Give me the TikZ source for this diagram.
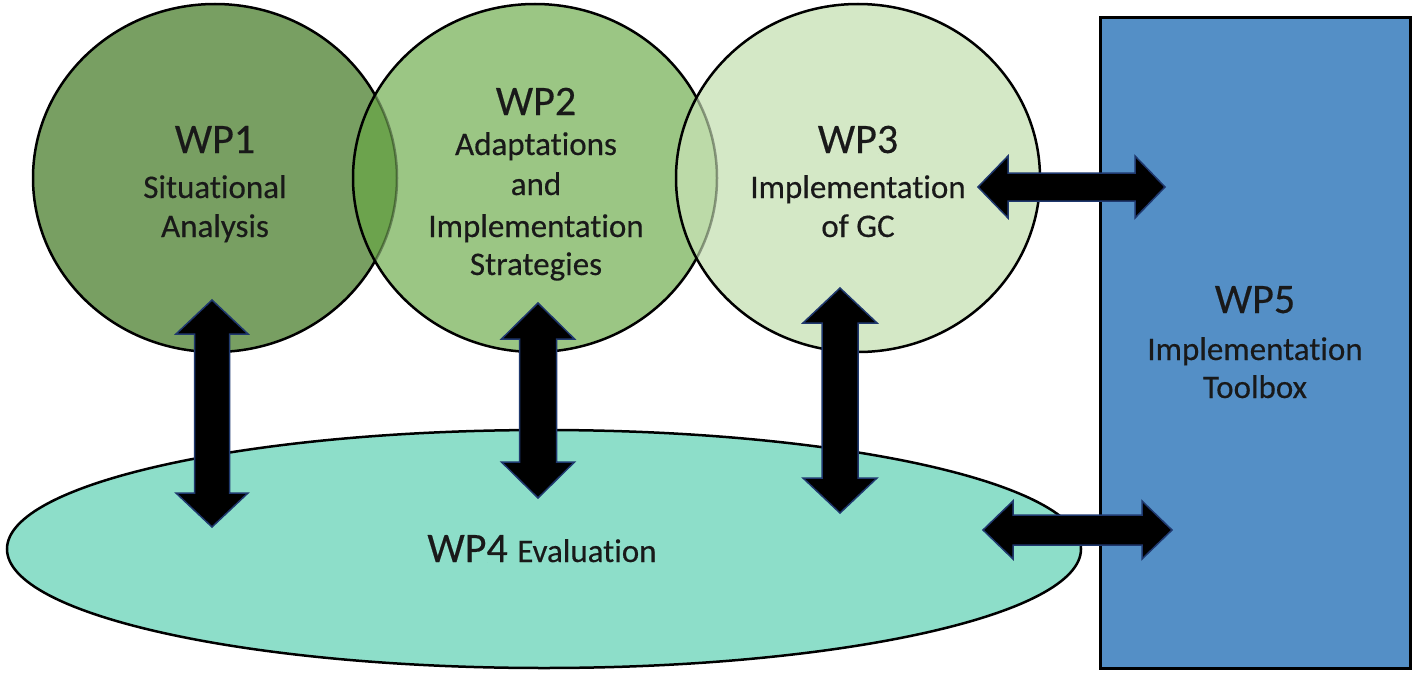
\documentclass[tikz,border=0pt]{standalone}
\usepackage{fontspec}
\setmainfont{Carlito}[FakeBold=0.35,Ligatures={NoCommon}]
\usetikzlibrary{calc,shapes.geometric}
\definecolor{wpone}{RGB}{120,159,98}
\definecolor{wptwo}{RGB}{155,198,132}
\definecolor{wpthree}{RGB}{212,232,198}
\definecolor{lensA}{RGB}{108,163,77}
\definecolor{lensB}{RGB}{188,218,168}
\definecolor{wpfour}{RGB}{141,222,201}
\definecolor{wpfive}{RGB}{84,143,198}
\definecolor{arrowblue}{RGB}{31,56,110}
\definecolor{textcol}{RGB}{25,25,25}
\newcommand\VArrow[5]{%
  \draw[blockarrow] (#1) -- ($(#1)+(#4,#5)$) -- ($(#1)+(#3,#5)$) -- ($(#2)+(#3,-#5)$) -- ($(#2)+(#4,-#5)$) -- (#2)
    -- ($(#2)+(-#4,-#5)$) -- ($(#2)+(-#3,-#5)$) -- ($(#1)+(-#3,#5)$) -- ($(#1)+(-#4,#5)$) -- cycle;}
\newcommand\HArrow[5]{%
  \draw[blockarrow] (#1) -- ($(#1)+(#5,-#4)$) -- ($(#1)+(#5,-#3)$) -- ($(#2)+(-#5,-#3)$) -- ($(#2)+(-#5,-#4)$) -- (#2)
    -- ($(#2)+(-#5,#4)$) -- ($(#2)+(-#5,#3)$) -- ($(#1)+(#5,#3)$) -- ($(#1)+(#5,#4)$) -- cycle;}
\begin{document}
\begin{tikzpicture}[x=1pt,y=-1pt,
  wpshape/.style={ellipse, minimum width=364pt, minimum height=348pt, inner sep=0pt, outer sep=0pt},
  border/.style={draw=black, line width=2.5pt},
  faint/.style={draw=black, draw opacity=0.35, line width=2.5pt},
  title/.style={font=\fontsize{42}{50}\selectfont, anchor=base, text=textcol, inner sep=0pt},
  sub/.style={font=\fontsize{33}{40}\selectfont, anchor=base, text=textcol, inner sep=0pt},
  blockarrow/.style={fill=black, draw=arrowblue, line width=1.5pt, line join=miter}]
\useasboundingbox (0,0) rectangle (1416,677);
\fill[white] (0,0) rectangle (1416,677);

% WP1
\node[wpshape, fill=wpone, border] (wp1) at (215,178) {};
% WP2 with overlap
\node[wpshape, fill=wptwo] (wp2) at (535,178) {};
\begin{scope}
  \clip (wp1.center) ellipse [x radius=182, y radius=174];
  \fill[lensA] (wp2.center) ellipse [x radius=182, y radius=174];
\end{scope}
\begin{scope}
  \clip (wp2.center) ellipse [x radius=182, y radius=174];
  \draw[faint] (wp1.center) ellipse [x radius=182, y radius=174];
\end{scope}
\draw[border] (wp2.center) ellipse [x radius=182, y radius=174];
% WP3 with overlap
\node[wpshape, fill=wpthree] (wp3) at (858,178) {};
\begin{scope}
  \clip (wp2.center) ellipse [x radius=182, y radius=174];
  \fill[lensB] (wp3.center) ellipse [x radius=182, y radius=174];
\end{scope}
\begin{scope}
  \clip (wp3.center) ellipse [x radius=182, y radius=174];
  \draw[faint] (wp2.center) ellipse [x radius=182, y radius=174];
\end{scope}
\draw[border] (wp3.center) ellipse [x radius=182, y radius=174];

% WP4 ellipse
\node[ellipse, minimum width=1074pt, minimum height=238pt, inner sep=0pt, fill=wpfour, border] (wp4) at (544,549) {};
% WP5 rectangle
\node[rectangle, minimum width=310pt, minimum height=650pt, inner sep=0pt, fill=wpfive, draw=black, line width=3pt] (wp5) at (1255,343) {};

% texts
\node[title] (t1) at (215,153) {WP1};
\node[sub] (t1a) at (215,198) {Situational};
\node[sub] (t1b) at (215,237) {Analysis};
\node[title] (t2) at (536,115) {WP2};
\node[sub] (t2a) at (536,155) {Adaptations};
\node[sub] (t2b) at (536,195) {and};
\node[sub] (t2c) at (536,237) {Implementation};
\node[sub] (t2d) at (536,275) {Strategies};
\node[title] (t3) at (858,153) {WP3};
\node[sub] (t3a) at (858,198) {Implementation};
\node[sub] (t3b) at (858,237) {of GC};
\node[anchor=base, inner sep=0pt, text=textcol] (t4) at (542,562) {\fontsize{42}{48}\selectfont WP4 \fontsize{33}{40}\selectfont Evaluation};
\node[title] (t5) at (1255,313) {WP5};
\node[sub] (t5a) at (1255,360) {Implementation};
\node[sub] (t5b) at (1255,398) {Toolbox};

% connector end points
\coordinate (a1t) at (212,300); \coordinate (a1b) at (212,527);
\coordinate (a2t) at (538,303); \coordinate (a2b) at (538,498);
\coordinate (a3t) at (840,288); \coordinate (a3b) at (840,513);
\coordinate (h1l) at (978,187); \coordinate (h1r) at (1165,187);
\coordinate (h2l) at (983,530); \coordinate (h2r) at (1172,530);

\VArrow{a1t}{a1b}{17.5}{36}{34}
\VArrow{a2t}{a2b}{18.5}{36.5}{36}
\VArrow{a3t}{a3b}{18}{37}{35}
\HArrow{h1l}{h1r}{14}{31}{30}
\HArrow{h2l}{h2r}{15}{29}{30}
\end{tikzpicture}
\end{document}
